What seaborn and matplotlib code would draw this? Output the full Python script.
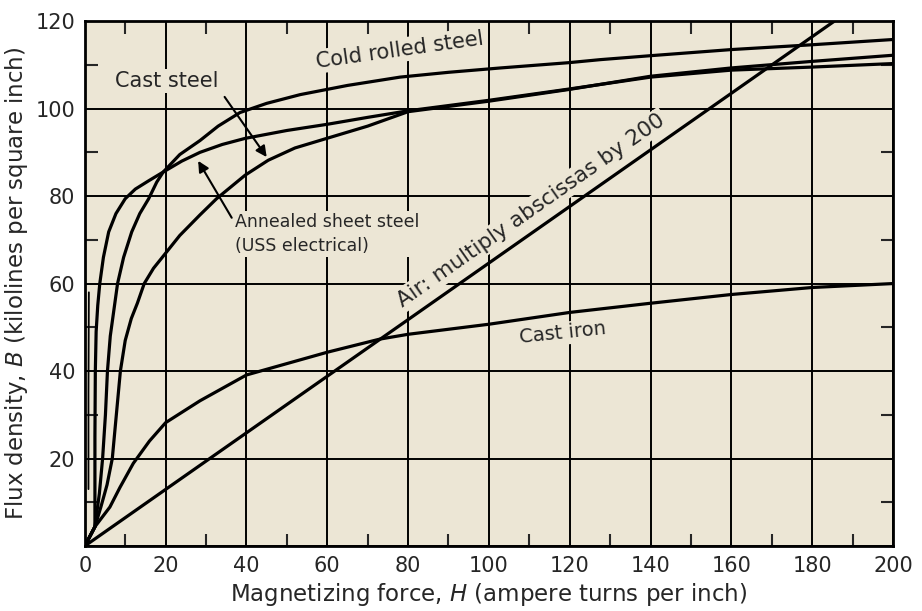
import pandas as pd
import matplotlib
matplotlib.use("Agg")
import matplotlib.pyplot as plt
import seaborn as sns
from matplotlib.ticker import MultipleLocator

sns.set_style("ticks")
plt.rcParams['font.family'] = ['DejaVu Sans']

# magnetization curves (H in A-turns/in, B in kilolines/sq in)
cold_h = [0, 2.5, 3.6, 4.4, 5.1, 5.6, 6.3, 7.2, 8.1, 9.6, 11.6, 13.6, 15.8, 17.8, 19.4, 23.5,
          28.5, 33, 38.4, 45, 53.3, 65, 78, 90, 102.9, 119.7, 127.6, 140, 160, 180, 200]
cold_b = [0, 4.4, 12, 20, 30, 40, 48, 54, 60, 66, 71.8, 76, 79.4, 83.2, 85.5, 89.5,
          92.7, 96, 99.1, 101.2, 103.2, 105.3, 107.2, 108.3, 109.3, 110.5, 111.2, 112.1, 113.5,
          114.6, 115.8]

annealed_h = [0, 2.5, 2.5, 2.5, 2.6, 2.8, 3.2, 3.7, 4.6, 5.9, 7.7, 10, 12.5, 15.8, 19.4, 24,
              28.5, 34, 39.7, 50, 59.9, 70, 80, 100, 120, 140, 160, 180, 200]
annealed_b = [0, 4.4, 12, 25, 40, 49, 55, 60, 66, 71.8, 76, 79.4, 81.6, 83.5, 85.5, 88,
              90, 91.8, 93.2, 95, 96.4, 98, 99.5, 101.9, 104.5, 107.2, 108.8, 109.5, 110.3]
annealed_stub_h = [0.9, 0.9, 1.0]
annealed_stub_b = [13, 35, 58]

cast_steel_h = [0, 2.5, 4, 5.5, 6.8, 7.8, 8.8, 10, 11.5, 13, 14.7, 17, 19, 23.5, 28.5, 32.6,
                39.7, 45.4, 52, 59.9, 70, 80, 100, 120, 140, 160, 180, 200]
cast_steel_b = [0, 4.4, 9, 14, 20, 30, 40, 47, 52, 55.5, 60, 63.5, 65.8, 71, 75.7, 79.4,
                84.8, 88.2, 91, 93.2, 96, 99.3, 101.7, 104.4, 107.4, 109.3, 110.8, 112.2]

cast_iron_h = [0, 2.5, 6.2, 8.7, 12, 16, 20, 28.5, 40, 60, 73, 80, 100, 120, 140, 160, 180, 200]
cast_iron_b = [0, 4.4, 8.9, 13.4, 18.9, 24, 28.2, 33.2, 39.1, 44.3, 47.3, 48.4, 50.7, 53.4,
               55.5, 57.5, 59.1, 60]

air_h = [0, 185.5]
air_b = [0, 120]

curves = {
    "Cold rolled steel": (cold_h, cold_b),
    "Annealed sheet steel": (annealed_h, annealed_b),
    "Cast steel": (cast_steel_h, cast_steel_b),
    "Cast iron": (cast_iron_h, cast_iron_b),
    "Air": (air_h, air_b),
}
df = pd.concat([pd.DataFrame({"H": h, "B": b, "curve": name}) for name, (h, b) in curves.items()])

bg = "#ece6d5"
fig = plt.figure(figsize=(9.22, 6.11), dpi=100)
ax = fig.add_axes([0.092, 0.1064, 0.8765, 0.859])
ax.set_facecolor(bg)

sns.lineplot(data=df, x="H", y="B", units="curve", estimator=None, sort=False,
             color="black", lw=2.3, ax=ax, zorder=3)
# short steep trace near the left axis
sns.lineplot(x=annealed_stub_h, y=annealed_stub_b, sort=False, estimator=None,
             color="black", lw=1.3, ax=ax, zorder=3)

ax.set_xlim(0, 200)
ax.set_ylim(0, 120)
ax.set_xticks(range(0, 201, 20))
ax.set_yticks(range(0, 121, 20))
ax.set_yticklabels([""] + [str(v) for v in range(20, 121, 20)])
ax.xaxis.set_minor_locator(MultipleLocator(10))
ax.yaxis.set_minor_locator(MultipleLocator(10))
ax.tick_params(which="major", length=0, labelsize=15, pad=7)
ax.tick_params(which="minor", direction="in", length=9, width=1.5,
               top=True, right=True, bottom=True, left=True)
ax.grid(True, which="major", color="black", lw=1.4)
for s in ax.spines.values():
    s.set_linewidth(2)
    s.set_color("black")

ax.set_xlabel("Magnetizing force, $\\mathit{H}$ (ampere turns per inch)", fontsize=16.5, labelpad=4)
ax.set_ylabel("Flux density, $\\mathit{B}$ (kilolines per square inch)", fontsize=16.5, labelpad=4)

box = dict(boxstyle="square,pad=0.1", fc=bg, ec="none")
ax.text(78, 113.4, "Cold rolled steel", fontsize=15, rotation=8, ha="center", va="center",
        rotation_mode="anchor", bbox=box, zorder=4)
ax.text(20.3, 106.4, "Cast steel", fontsize=15, ha="center", va="center", bbox=box, zorder=4)
ax.text(37.2, 71.3, "Annealed sheet steel\n(USS electrical)", fontsize=12.5, ha="left",
        va="center", linespacing=1.45, bbox=box, zorder=4)
ax.text(110.5, 76.8, "Air: multiply abscissas by 200", fontsize=15.5, rotation=35,
        ha="center", va="center", rotation_mode="anchor", bbox=box, zorder=4)
ax.text(118.2, 48.6, "Cast iron", fontsize=14, rotation=6, ha="center", va="center",
        rotation_mode="anchor", bbox=box, zorder=4)

arrow = dict(arrowstyle="-|>", color="black", lw=1.5, mutation_scale=16)
ax.annotate("", xy=(45.4, 88.4), xytext=(34.2, 103.2), arrowprops=arrow, zorder=5)
ax.annotate("", xy=(27.7, 88.6), xytext=(36.7, 74.5), arrowprops=arrow, zorder=5)

plt.savefig("out.png", dpi=100)
